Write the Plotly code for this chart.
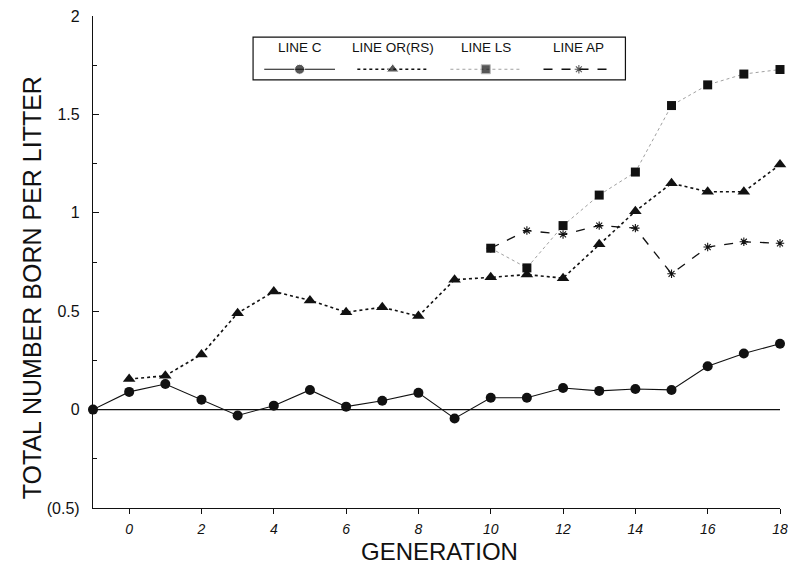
import plotly.graph_objects as go

# ---- data ----
gen_c = list(range(-1, 19))
line_c = [0.0, 0.09, 0.13, 0.05, -0.03, 0.02, 0.10, 0.015, 0.045, 0.085, -0.045,
          0.06, 0.06, 0.11, 0.095, 0.105, 0.10, 0.22, 0.285, 0.335]

gen_or = list(range(0, 19))
line_or = [0.155, 0.172, 0.28, 0.49, 0.60, 0.555, 0.495, 0.52, 0.475, 0.66,
           0.672, 0.686, 0.668, 0.84, 1.008, 1.15, 1.107, 1.107, 1.245]

gen_ls = list(range(10, 19))
line_ls = [0.82, 0.72, 0.935, 1.09, 1.207, 1.545, 1.65, 1.705, 1.728]

gen_ap = list(range(10, 19))
line_ap = [0.82, 0.91, 0.89, 0.935, 0.922, 0.69, 0.826, 0.853, 0.845]

legend_names = ["LINE C", "LINE OR(RS)", "LINE LS", "LINE AP"]

y_tickvals = [-0.5, 0, 0.5, 1, 1.5, 2]
y_ticktext = ["(0.5)", "0", "0.5", "1", "1.5", "2"]
x_tickvals = list(range(0, 19, 2))

# ---- styles ----
INK = "#111111"
FONT = "Liberation Sans, Arial, sans-serif"
styles = [
    dict(line=dict(color=INK, width=1.1, dash="solid"),
         marker=dict(symbol="circle", size=10, color=INK)),
    dict(line=dict(color=INK, width=1.6, dash="dot"),
         marker=dict(symbol="triangle-up", size=11, color=INK)),
    dict(line=dict(color="#a0a0a0", width=1.0, dash="dot"),
         marker=dict(symbol="square", size=9, color=INK)),
    dict(line=dict(color=INK, width=1.3, dash="dash"),
         marker=dict(symbol="asterisk-open", size=7, color=INK,
                     line=dict(color=INK, width=1.1))),
]
series = [(gen_c, line_c), (gen_or, line_or), (gen_ls, line_ls), (gen_ap, line_ap)]

fig = go.Figure()

# zero reference line
fig.add_shape(type="line", xref="x", yref="y", x0=-1, x1=18, y0=0, y1=0,
              line=dict(color=INK, width=1.2), layer="below")

for (xs, ys), st, name in zip(series, styles, legend_names):
    fig.add_trace(go.Scatter(x=xs, y=ys, mode="lines+markers", name=name,
                             line=st["line"], marker=st["marker"],
                             cliponaxis=False, showlegend=False))

# ---- custom legend (text above sample) on helper axes ----
for i, (st, name) in enumerate(zip(styles, legend_names)):
    m = dict(st["marker"])
    m["size"] = [0, m["size"], 0]
    fig.add_trace(go.Scatter(x=[i + 0.12, i + 0.5, i + 0.88], y=[0, 0, 0],
                             mode="lines+markers", line=st["line"], marker=m,
                             xaxis="x2", yaxis="y2", showlegend=False,
                             hoverinfo="skip", cliponaxis=False))
    fig.add_annotation(x=i + 0.5, y=1, xref="x2", yref="y2", text=name,
                       showarrow=False, font=dict(size=13.5, color=INK, family=FONT))

fig.add_shape(type="rect", xref="paper", yref="paper",
              x0=0.233, x1=0.775, y0=0.87, y1=0.957,
              line=dict(color=INK, width=1.2), fillcolor="rgba(0,0,0,0)")

# axis titles
fig.add_annotation(x=-0.0885, y=0.447, xref="paper", yref="paper",
                   xanchor="center", yanchor="middle",
                   text="TOTAL NUMBER BORN PER LITTER", textangle=-90,
                   showarrow=False, font=dict(size=25, color=INK, family=FONT))
fig.add_annotation(x=0.504, y=-0.0894, xref="paper", yref="paper",
                   xanchor="center", yanchor="middle",
                   text="GENERATION", showarrow=False,
                   font=dict(size=24, color=INK, family=FONT))

fig.update_layout(
    width=788, height=572,
    margin=dict(l=93, r=8, t=16, b=64, autoexpand=False),
    paper_bgcolor="white", plot_bgcolor="white",
    font=dict(family=FONT, color=INK),
    xaxis=dict(range=[-1, 18], tickvals=x_tickvals, showgrid=False, zeroline=False,
               showline=True, linecolor=INK, linewidth=1.2,
               ticks="outside", ticklen=5, tickcolor=INK,
               tickfont=dict(size=14, style="italic", color=INK),
               ticklabelstandoff=3, ticklabeloverflow="allow", automargin=False),
    yaxis=dict(range=[-0.5, 2], tickvals=y_tickvals, ticktext=y_ticktext,
               showgrid=False, zeroline=False,
               showline=True, linecolor=INK, linewidth=1.2,
               ticks="inside", ticklen=6, tickcolor=INK,
               tickfont=dict(size=16, color=INK), ticklabelstandoff=9,
               ticklabeloverflow="allow", automargin=False,
               minor=dict(tickvals=[-0.25, 0.25, 0.75, 1.25, 1.75],
                          ticks="inside", ticklen=4, tickcolor=INK)),
    xaxis2=dict(domain=[0.233, 0.775], range=[0, 4], anchor="y2",
                visible=False, fixedrange=True),
    yaxis2=dict(domain=[0.87, 0.957], range=[-0.5, 1.5], anchor="x2",
                visible=False, fixedrange=True),
)

fig.write_html("out.html", config={"displayModeBar": False},
               post_script="document.body.style.margin='0';document.body.style.overflow='hidden';")
